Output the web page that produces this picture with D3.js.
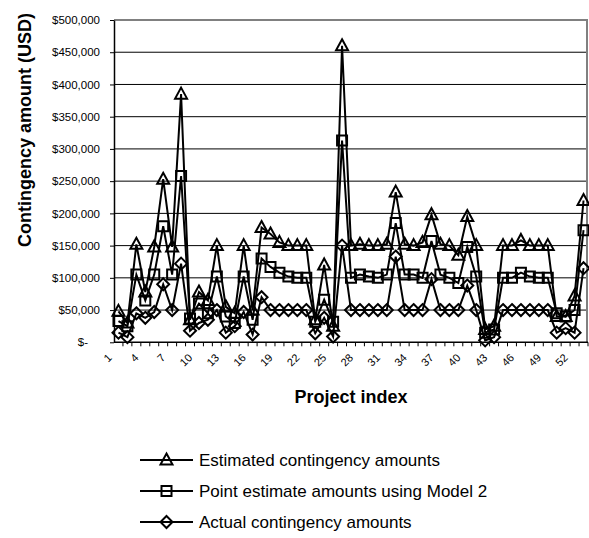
<!DOCTYPE html>
<html>
<head>
<meta charset="utf-8">
<script src="https://cdn.jsdelivr.net/npm/d3@7"></script>
<style>
  body { margin: 0; background: #fff; }
  svg { display: block; font-family: "Liberation Sans", Arial, sans-serif; }
</style>
</head>
<body>
<div id="chart"></div>
<script>
const projects = [1, 2, 3, 4, 5, 6, 7, 8, 9, 10, 11, 12, 13, 14, 15, 16, 17, 18, 19, 20,
    21, 22, 23, 24, 25, 26, 27, 28, 29, 30, 31, 32, 33, 34, 35, 36, 37, 38, 39, 40,
    41, 42, 43, 44, 45, 46, 47, 48, 49, 50, 51, 52, 53];

const estimated = [48000, 30000, 152000, 78000, 148000, 253000, 148000, 385000, 35000, 78000,
    65000, 150000, 55000, 45000, 150000, 50000, 178000, 168000, 155000, 150000,
    150000, 150000, 35000, 120000, 25000, 460000, 150000, 152000, 150000, 150000,
    152000, 233000, 152000, 150000, 155000, 198000, 152000, 150000, 135000, 195000,
    150000, 20000, 25000, 150000, 150000, 158000, 150000, 150000, 150000, 40000,
    40000, 72000, 220000];

const pointEstimate = [33000, 25000, 105000, 65000, 105000, 180000, 105000, 258000, 37000, 60000,
    45000, 102000, 40000, 30000, 102000, 35000, 130000, 117000, 108000, 102000,
    100000, 100000, 32000, 66000, 32000, 313000, 100000, 105000, 102000, 100000,
    105000, 185000, 105000, 105000, 100000, 157000, 105000, 100000, 92000, 148000,
    102000, 15000, 20000, 100000, 100000, 108000, 102000, 100000, 100000, 45000,
    40000, 50000, 174000];

const actual = [15000, 8000, 45000, 38000, 47000, 90000, 50000, 122000, 18000, 30000,
    35000, 50000, 15000, 25000, 47000, 12000, 70000, 50000, 50000, 50000,
    50000, 50000, 14000, 38000, 9000, 150000, 50000, 50000, 50000, 50000,
    50000, 133000, 50000, 50000, 50000, 98000, 50000, 50000, 50000, 88000,
    50000, 3000, 8000, 50000, 50000, 50000, 50000, 50000, 50000, 15000,
    22000, 15000, 115000];

const yTicks = [0, 50000, 100000, 150000, 200000, 250000, 300000, 350000, 400000, 450000, 500000];
const xLabels = [1, 4, 7, 10, 13, 16, 19, 22, 25, 28, 31, 34, 37, 40, 43, 46, 49, 52];

const seriesNames = ['Estimated contingency amounts', 'Point estimate amounts using Model 2', 'Actual contingency amounts'];
const seriesSymbols = ['triangle', 'square', 'diamond'];
const seriesValues = [estimated, pointEstimate, actual];

const W = 589, H = 538;
const plot = { left: 114, right: 588, top: 20, bottom: 342.3 };

const svg = d3.select('#chart').append('svg')
    .attr('width', W)
    .attr('height', H);

const x = d3.scaleBand()
    .domain(projects)
    .range([plot.left, plot.right])
    .padding(0);
const cx = d => x(d) + x.bandwidth() / 2;

const y = d3.scaleLinear()
    .domain([0, 500000])
    .range([plot.bottom, plot.top]);

// gridlines
svg.append('g')
    .selectAll('line')
    .data(yTicks.filter(v => v > 0 && v < 500000))
    .enter().append('line')
    .attr('x1', plot.left).attr('x2', plot.right)
    .attr('y1', d => y(d)).attr('y2', d => y(d))
    .attr('stroke', '#000').attr('stroke-width', 1);

// plot border (top & right, grey)
svg.append('path')
    .attr('d', `M${plot.left},${y(500000)}H${plot.right - 1}V${plot.bottom}`)
    .attr('fill', 'none')
    .attr('stroke', '#808080')
    .attr('stroke-width', 2);

// y axis
const fmt = d3.format(',');
const yAxis = svg.append('g')
    .attr('transform', `translate(${plot.left},0)`)
    .call(d3.axisLeft(y).tickValues(yTicks).tickSize(4).tickSizeOuter(0)
        .tickFormat(v => v === 0 ? '$-' : '$' + fmt(v)));
yAxis.select('.domain').attr('stroke', '#000').attr('stroke-width', 1.5);
yAxis.selectAll('.tick line').attr('stroke', '#000');
yAxis.selectAll('.tick text')
    .attr('x', -14)
    .attr('dx', d => d === 0 ? -12 : 0)
    .style('font-size', '11.5px')
    .style('font-family', '"Liberation Sans", Arial, sans-serif')
    .attr('fill', '#000');

// x axis line + ticks between categories
svg.append('line')
    .attr('x1', plot.left).attr('x2', plot.right)
    .attr('y1', plot.bottom).attr('y2', plot.bottom)
    .attr('stroke', '#000').attr('stroke-width', 1.5);
svg.append('g')
    .selectAll('line')
    .data(projects)
    .enter().append('line')
    .attr('x1', d => x(d) + x.bandwidth()).attr('x2', d => x(d) + x.bandwidth())
    .attr('y1', plot.bottom).attr('y2', plot.bottom + 4)
    .attr('stroke', '#000');

svg.append('g')
    .selectAll('text')
    .data(xLabels)
    .enter().append('text')
    .attr('transform', d => `translate(${cx(d) - 6},${plot.bottom + 16}) rotate(-45)`)
    .attr('text-anchor', 'end')
    .style('font-size', '11px')
    .text(d => d);

// axis titles
svg.append('text')
    .attr('transform', 'translate(31,130) rotate(-90)')
    .attr('text-anchor', 'middle')
    .style('font-size', '18px')
    .style('font-weight', 'bold')
    .text('Contingency amount (USD)');

svg.append('text')
    .attr('x', 351)
    .attr('y', 403)
    .attr('text-anchor', 'middle')
    .style('font-size', '18px')
    .style('font-weight', 'bold')
    .text('Project index');

// markers
function markerPath(type) {
    if (type === 'triangle') return 'M0,-6.5L6,4.5L-6,4.5Z';
    if (type === 'square') return 'M-5,-5H5V5H-5Z';
    return 'M0,-6L6,0L0,6L-6,0Z';
}

const line = d3.line()
    .x((d, i) => cx(projects[i]))
    .y(d => y(d));

seriesValues.forEach((vals, si) => {
    const g = svg.append('g').attr('class', 'serie');
    g.append('path')
        .attr('d', line(vals))
        .attr('fill', 'none')
        .attr('stroke', '#000')
        .attr('stroke-width', 2)
        .attr('stroke-linejoin', 'miter');
    g.selectAll('path.mk')
        .data(vals)
        .enter().append('path')
        .attr('class', 'mk')
        .attr('transform', (d, i) => `translate(${cx(projects[i])},${y(d)})`)
        .attr('d', markerPath(seriesSymbols[si]))
        .attr('fill', 'none')
        .attr('stroke', '#000')
        .attr('stroke-width', 2);
});

// legend
const legend = svg.append('g');
const legendY = [460, 491, 522];
seriesNames.forEach((name, i) => {
    const g = legend.append('g').attr('transform', `translate(0,${legendY[i]})`);
    g.append('line')
        .attr('x1', 140).attr('x2', 193)
        .attr('y1', 0).attr('y2', 0)
        .attr('stroke', '#000').attr('stroke-width', 2);
    g.append('path')
        .attr('transform', 'translate(166.5,0)')
        .attr('d', markerPath(seriesSymbols[i]))
        .attr('fill', 'none')
        .attr('stroke', '#000')
        .attr('stroke-width', 2);
    g.append('text')
        .attr('x', 199)
        .attr('y', 6)
        .style('font-size', '17px')
        .text(name);
});
</script>
</body>
</html>
